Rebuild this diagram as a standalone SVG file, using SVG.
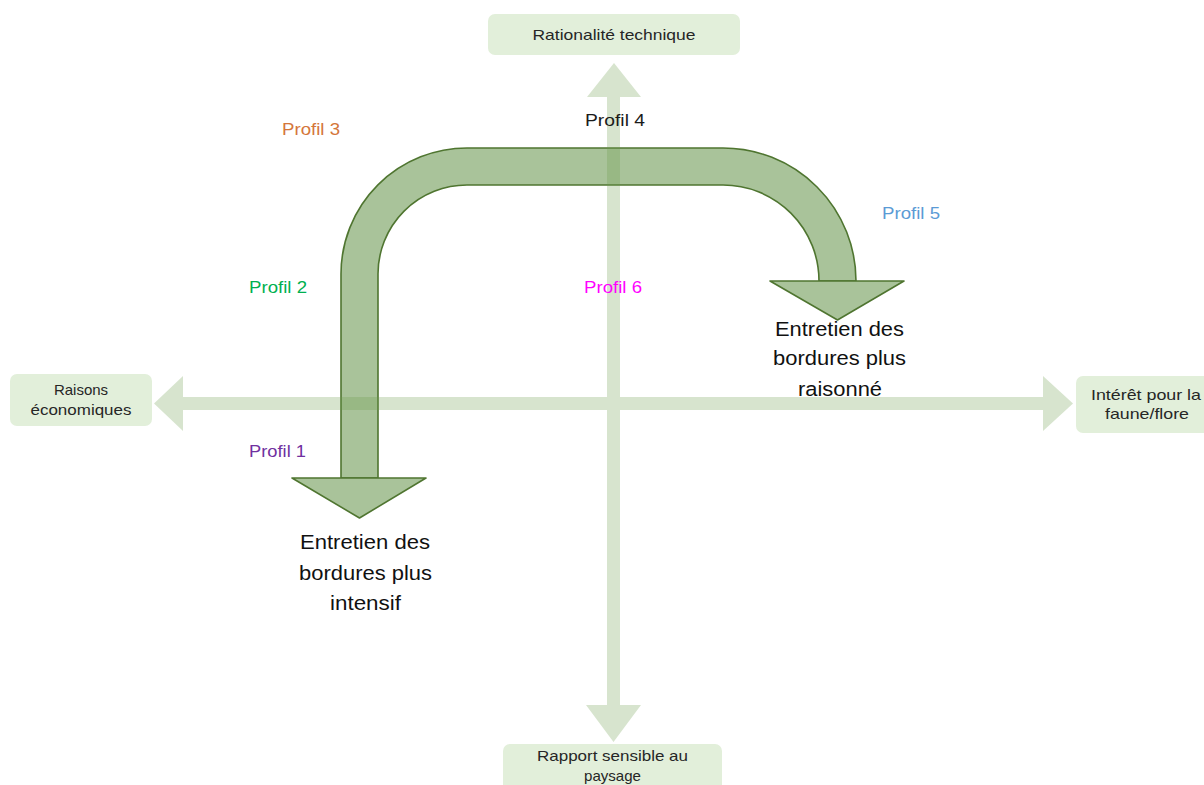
<svg xmlns="http://www.w3.org/2000/svg" width="1204" height="785" viewBox="0 0 1204 785">
  <style>
    .box { fill: #e2efda; }
    .boxt { font-family: "Liberation Sans", Arial, sans-serif; font-size: 15px; fill: #262626; text-anchor: middle; }
    .prof { font-family: "Liberation Sans", Arial, sans-serif; font-size: 16.5px; }
    .big { font-family: "Liberation Sans", Arial, sans-serif; font-size: 20.5px; fill: #111111; text-anchor: middle; }
    .arrow { fill: #a9c39a; stroke: #4f7530; stroke-width: 1.6; stroke-linejoin: round; }
    .axis { fill: #6a9a4a; fill-opacity: 0.27; stroke: none; }
  </style>
  <rect width="1204" height="785" fill="#ffffff"/>

  <g id="big-arrow">
    <path class="arrow" d="M 341 478 L 378 478 L 378 274 A 89 89 0 0 1 467 185 L 723 185 A 96 96 0 0 1 819 281 L 856 281 A 133 133 0 0 0 723 148 L 467 148 A 126 126 0 0 0 341 274 Z"/>
    <path class="arrow" d="M 292 478 L 426 478 L 359.5 518 Z"/>
    <path class="arrow" d="M 770 281 L 904 281 L 837.5 320 Z"/>
  </g>

  <g id="connectors">
    <path class="axis" d="M 607 97 L 587 97 L 614 63 L 641 97 L 620 97 L 620 705 L 641 705 L 613.5 742 L 586 705 L 607 705 Z M 183 397 L 1043 397 L 1043 376 L 1073 403.5 L 1043 431 L 1043 410 L 183 410 L 183 431 L 154 403.5 L 183 376 Z"/>
  </g>

  <g id="node-rationalite">
    <rect class="box" x="488" y="14" width="252" height="41" rx="7"/>
    <text class="boxt" x="614" y="40" textLength="163" lengthAdjust="spacingAndGlyphs">Rationalité technique</text>
  </g>
  <g id="node-raisons">
    <rect class="box" x="10" y="374" width="142" height="52" rx="7"/>
    <text class="boxt" x="81" y="395">Raisons</text>
    <text class="boxt" x="81" y="415" textLength="101" lengthAdjust="spacingAndGlyphs">économiques</text>
  </g>
  <g id="node-interet">
    <rect class="box" x="1076" y="376" width="140" height="57" rx="7"/>
    <text class="boxt" x="1146" y="400" textLength="110" lengthAdjust="spacingAndGlyphs">Intérêt pour la</text>
    <text class="boxt" x="1147" y="419" textLength="84" lengthAdjust="spacingAndGlyphs">faune/flore</text>
  </g>
  <g id="node-rapport">
    <rect class="box" x="503" y="744" width="219" height="55" rx="7"/>
    <text class="boxt" x="612.5" y="761" textLength="151" lengthAdjust="spacingAndGlyphs">Rapport sensible au</text>
    <text class="boxt" x="612.5" y="781" textLength="57" lengthAdjust="spacingAndGlyphs">paysage</text>
  </g>

  <g id="labels">
    <text class="prof" x="282" y="135" fill="#d4763a" textLength="58" lengthAdjust="spacingAndGlyphs">Profil 3</text>
    <text class="prof" x="585" y="126" fill="#1a1a1a" textLength="60" lengthAdjust="spacingAndGlyphs">Profil 4</text>
    <text class="prof" x="882" y="219" fill="#5b9bd5" textLength="58" lengthAdjust="spacingAndGlyphs">Profil 5</text>
    <text class="prof" x="249" y="293" fill="#00b050" textLength="58" lengthAdjust="spacingAndGlyphs">Profil 2</text>
    <text class="prof" x="584" y="293" fill="#ff00ff" textLength="58" lengthAdjust="spacingAndGlyphs">Profil 6</text>
    <text class="prof" x="249" y="457" fill="#7030a0" textLength="57" lengthAdjust="spacingAndGlyphs">Profil 1</text>
  </g>

  <g id="text-intensif">
    <text class="big" x="365" y="549" textLength="130" lengthAdjust="spacingAndGlyphs">Entretien des</text>
    <text class="big" x="365.5" y="580" textLength="133" lengthAdjust="spacingAndGlyphs">bordures plus</text>
    <text class="big" x="365.5" y="610" textLength="71" lengthAdjust="spacingAndGlyphs">intensif</text>
  </g>
  <g id="text-raisonne">
    <text class="big" x="839.5" y="336" textLength="129" lengthAdjust="spacingAndGlyphs">Entretien des</text>
    <text class="big" x="839.5" y="365" textLength="133" lengthAdjust="spacingAndGlyphs">bordures plus</text>
    <text class="big" x="840" y="396" textLength="84" lengthAdjust="spacingAndGlyphs">raisonné</text>
  </g>
</svg>
